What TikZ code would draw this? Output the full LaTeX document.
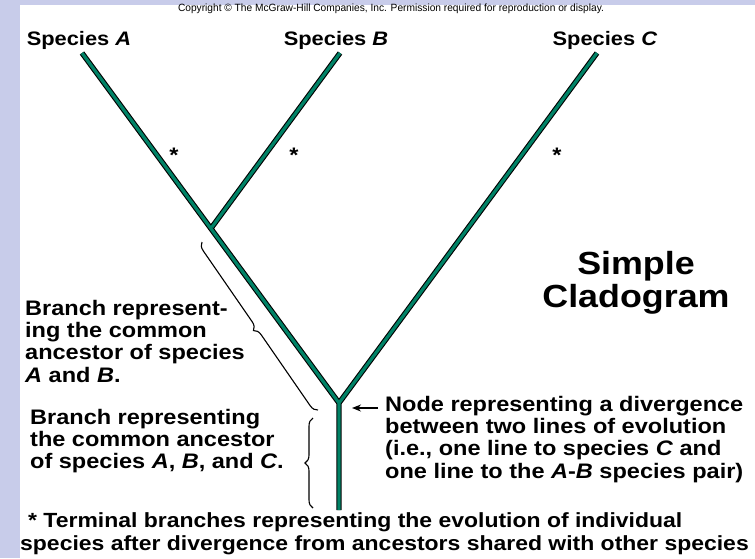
\documentclass[tikz,border=0pt]{standalone}
\usepackage{fontspec}
\setmainfont{Liberation Sans}[FakeStretch=1.12]
\newfontfamily\cpfont{Liberation Sans}[FakeStretch=0.97]
\usetikzlibrary{positioning, calc, arrows.meta, decorations.pathreplacing}
\definecolor{cladegreen}{RGB}{0,130,102}
\definecolor{slideblue}{RGB}{200,204,234}
\tikzset{
	clade outer/.style={line width=5.4pt, black},
	clade inner/.style={line width=3.2pt, cladegreen},
	sp/.style={font=\fontsize{19.5}{22}\selectfont\bfseries, inner sep=0pt},
	note/.style={font=\fontsize{21}{22.2}\selectfont\bfseries, align=left, inner sep=0pt},
	starmark/.style={font=\fontsize{21}{23.5}\selectfont\bfseries, inner sep=0pt},
	bracket/.style={decorate, decoration={brace, amplitude=8pt}, line width=1.1pt},
	ptr/.style={-{Stealth[length=9pt, width=7pt]}, line width=1.4pt}
}
\begin{document}
\begin{tikzpicture}[x=1pt, y=-1pt]
\fill[slideblue] (0, 0) rectangle (755, 558);
\fill[white] (20, 5) rectangle (755, 558);
\useasboundingbox (0, 0) rectangle (755, 558);
\coordinate (root) at (339, 403);
\coordinate (base) at (339, 510);
\coordinate (jab) at (212, 227);
\coordinate (tipA) at (82, 53);
\coordinate (tipB) at (340, 53);
\coordinate (tipC) at (597, 53);
\foreach \sty in {clade outer, clade inner}
	\draw[\sty] (tipA) -- (root) -- (tipC) (jab) -- (tipB) (root) -- (base);
\node[font=\cpfont\fontsize{10.5}{11}\selectfont, inner sep=0pt] (copy) at (391, 9) {Copyright \textcopyright\ The McGraw-Hill Companies, Inc. Permission required for reproduction or display.};
\node[sp, anchor=base] (spA) at (79, 45) {Species \textit{A}};
\node[sp, anchor=base] (spB) at (336, 45) {Species \textit{B}};
\node[sp, anchor=base] (spC) at (605, 45) {Species \textit{C}};
\node[starmark, anchor=base] (starA) at (174, 162) {*};
\node[starmark, anchor=base] (starB) at (294, 162) {*};
\node[starmark, anchor=base] (starC) at (557, 162) {*};
\node[font=\fontsize{32}{33}\selectfont\bfseries, align=center, inner sep=0pt] (title) at (636, 283) {Simple\\Cladogram};
\node[note, anchor=north west] (abtext) at (25, 300) {Branch represent-\\ing the common\\ancestor of species\\\textit{A} and \textit{B}.};
\node[note, anchor=north west] (abctext) at (30, 409) {Branch representing\\the common ancestor\\of species \textit{A}, \textit{B}, and \textit{C}.};
\node[note, anchor=north west] (divtext) at (385, 396) {Node representing a divergence\\between two lines of evolution\\(i.e., one line to species \textit{C} and\\one line to the \textit{A}-\textit{B} species pair)};
\node[note, font=\fontsize{20.5}{23}\selectfont\bfseries, anchor=north west] (termtext) at (20, 512) {\hspace{8pt}* Terminal branches representing the evolution of individual\\species after divergence from ancestors shared with other species};
\coordinate (abtop) at (202, 242);
\coordinate (ablow) at (318, 410);
\coordinate (abctop) at (313, 418);
\coordinate (abclow) at (313, 508);
\draw[bracket] (ablow) -- (abtop);
\draw[bracket] (abclow) -- (abctop);
\draw[ptr] ([shift={(39, 5)}]root) -- ([shift={(13, 5)}]root);
\end{tikzpicture}
\end{document}
